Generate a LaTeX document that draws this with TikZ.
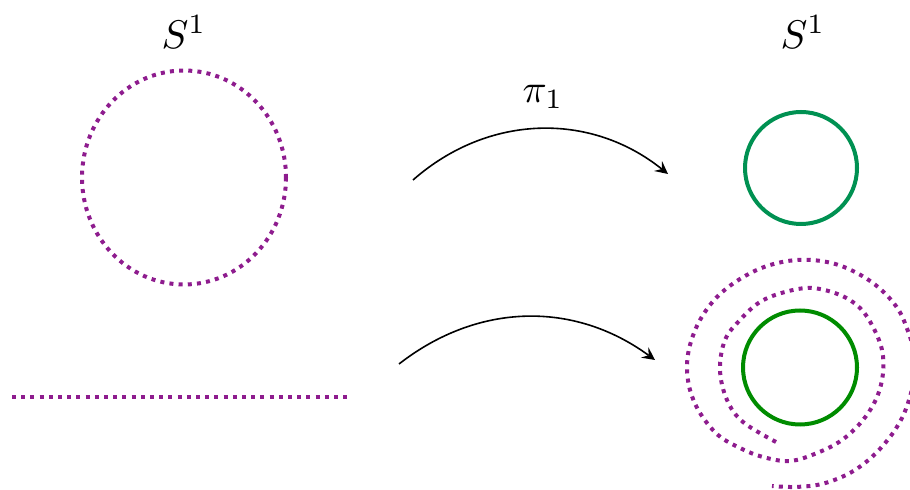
\documentclass[tikz,border=0pt]{standalone}
\usetikzlibrary{arrows}
\definecolor{dotpurple}{RGB}{142,28,142}
\definecolor{tealgreen}{RGB}{0,145,82}
\definecolor{puregreen}{RGB}{0,140,0}
\tikzset{
  dotline/.style={dotpurple, line width=1pt, dash pattern=on 1pt off 1.3pt},
  circA/.style={tealgreen, line width=1pt},
  circB/.style={puregreen, line width=1pt},
  maparrow/.style={-stealth, line width=0.4pt, black},
  lbl/.style={inner sep=0pt}
}
\begin{document}
\begin{tikzpicture}[x=0.25pt, y=-0.25pt]
\useasboundingbox (0,0) rectangle (910,490);
\clip (0,0) rectangle (910,490);
% labels
\node[lbl] (sl) at (184,32) {$S^1$};
\node[lbl] (sr) at (803,32) {$S^1$};
\node[lbl] (pi) at (543,97) {$\pi_1$};
% left circle and line
\draw[dotline] (184,177.5) ellipse [x radius=102, y radius=107];
\coordinate (l1) at (12,397);
\coordinate (l2) at (352,397);
\draw[dotline] (l1) -- (l2);
% right circles
\draw[circA] (801,168) circle [radius=56];
\draw[circB] (800,367.5) circle [radius=57];
% spiral
\draw[dotline] plot[smooth, tension=0.6] coordinates {
  (776,442) (743,422) (727,400) (720,370) (725,340) (740,320) (760,302)
  (785,292) (812,288) (840,295) (860,308) (873,327) (882,350) (883,373)
  (877,397) (863,420) (842,440) (817,453) (790,461) (763,457) (740,448)
  (718,435) (700,413) (690,390) (687,367) (690,345) (700,320) (717,297)
  (740,279) (767,266) (797,260) (827,262) (853,271) (878,287) (898,309)
  (909,334) (914,352) (915,367) (913,384) (909,400) (902,418) (890,437)
  (873,456) (855,470) (837,479) (817,485) (793,487) (772,486)};
% arrows
\coordinate (a1s) at (413,180);
\coordinate (a1e) at (668,174);
\coordinate (a2s) at (399,364);
\coordinate (a2e) at (655,360);
\draw[maparrow] (a1s) to[bend left=40] (a1e);
\draw[maparrow] (a2s) to[bend left=37] (a2e);
\end{tikzpicture}
\end{document}
